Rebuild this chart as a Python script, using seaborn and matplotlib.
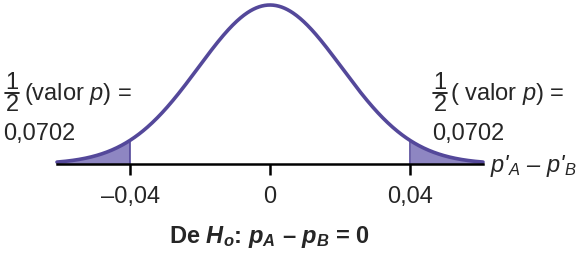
import numpy as np
import pandas as pd
import matplotlib
matplotlib.use("Agg")
import matplotlib.pyplot as plt
import seaborn as sns

# ---- data ----
mean_diff = 0.0
sd_draw = 0.0205          # spread of the drawn bell curve
crit_low, crit_high = -0.04, 0.04
x_lo, x_hi = -0.0609, 0.0609
tick_vals = [-0.04, 0.0, 0.04]
tick_labels = ["–0,04", "0", "0,04"]
half_p_label = "0,0702"

sns.set_theme(style="white")
plt.rcParams["font.family"] = ["Liberation Sans", "DejaVu Sans"]
plt.rcParams["mathtext.fontset"] = "custom"
plt.rcParams["mathtext.rm"] = "Liberation Sans"
plt.rcParams["mathtext.it"] = "Liberation Sans:italic"
plt.rcParams["mathtext.bf"] = "Liberation Sans:bold"
plt.rcParams["mathtext.bfit"] = "Liberation Sans:italic:bold"

W, H = 581, 257
fig = plt.figure(figsize=(W / 100, H / 100), dpi=100)
# axes: x from 57px to 483px, axis line at y=164px, peak near y=5px
ax = fig.add_axes([57 / W, (H - 164) / H, (483 - 57) / W, (164 - 5) / H])

xs = np.linspace(x_lo, x_hi, 600)
ys = np.exp(-0.5 * ((xs - mean_diff) / sd_draw) ** 2)
df = pd.DataFrame({"x": xs, "y": ys})

line_col = "#54489a"
fill_col = "#8e86c2"

mask_l = xs <= crit_low
mask_r = xs >= crit_high
ax.fill_between(xs[mask_l], 0, ys[mask_l], color=fill_col, lw=0)
ax.fill_between(xs[mask_r], 0, ys[mask_r], color=fill_col, lw=0)
ax.plot([crit_low, crit_low], [0, np.exp(-0.5 * ((crit_low - mean_diff) / sd_draw) ** 2)], color=line_col, lw=1.2)
ax.plot([crit_high, crit_high], [0, np.exp(-0.5 * ((crit_high - mean_diff) / sd_draw) ** 2)], color=line_col, lw=1.2)

sns.lineplot(data=df, x="x", y="y", ax=ax, color=line_col, lw=2.6, clip_on=False)

ax.set_xlim(x_lo, x_hi)
ax.set_ylim(0, 1.0)
for s in ["top", "right", "left"]:
    ax.spines[s].set_visible(False)
ax.spines["bottom"].set_color("black")
ax.spines["bottom"].set_linewidth(1.8)
ax.set_yticks([])
ax.set_xticks(tick_vals)
ax.set_xticklabels(tick_labels, fontsize=17)
ax.tick_params(axis="x", direction="out", length=8, width=1.8, color="black", pad=8, bottom=True)
ax.set_xlabel("")
ax.set_ylabel("")
ax.patch.set_alpha(0)


def ft(x, y, s, **kw):
    fig.text(x / W, 1 - y / H, s, **kw)


fs = 17
# left label
ft(12, 83, "1", fontsize=fs, ha="center", va="center")
fig.add_artist(plt.Line2D([5 / W, 19 / W], [1 - 93 / H, 1 - 93 / H], color="black", lw=1.2))
ft(12, 105, "2", fontsize=fs, ha="center", va="center")
ft(24, 94, r"(valor $p$) =", fontsize=fs, ha="left", va="center")
ft(3, 134, half_p_label, fontsize=fs, ha="left", va="center")

# right label
ft(440, 83, "1", fontsize=fs, ha="center", va="center")
fig.add_artist(plt.Line2D([433 / W, 447 / W], [1 - 93 / H, 1 - 93 / H], color="black", lw=1.2))
ft(440, 105, "2", fontsize=fs, ha="center", va="center")
ft(450, 94, r"( valor $p$) =", fontsize=fs, ha="left", va="center")
ft(432, 134, half_p_label, fontsize=fs, ha="left", va="center")

# axis label
ft(490, 166, r"p'${}_A$ – p'${}_B$", fontsize=fs, fontstyle="italic", ha="left", va="center")

# title below
ft(270, 237, r"De $\mathbfit{H_o}$: $\mathbfit{p_A}$ – $\mathbfit{p_B}$ = 0",
   fontsize=fs, fontweight="bold", ha="center", va="center")

fig.savefig("out.png", dpi=100)
